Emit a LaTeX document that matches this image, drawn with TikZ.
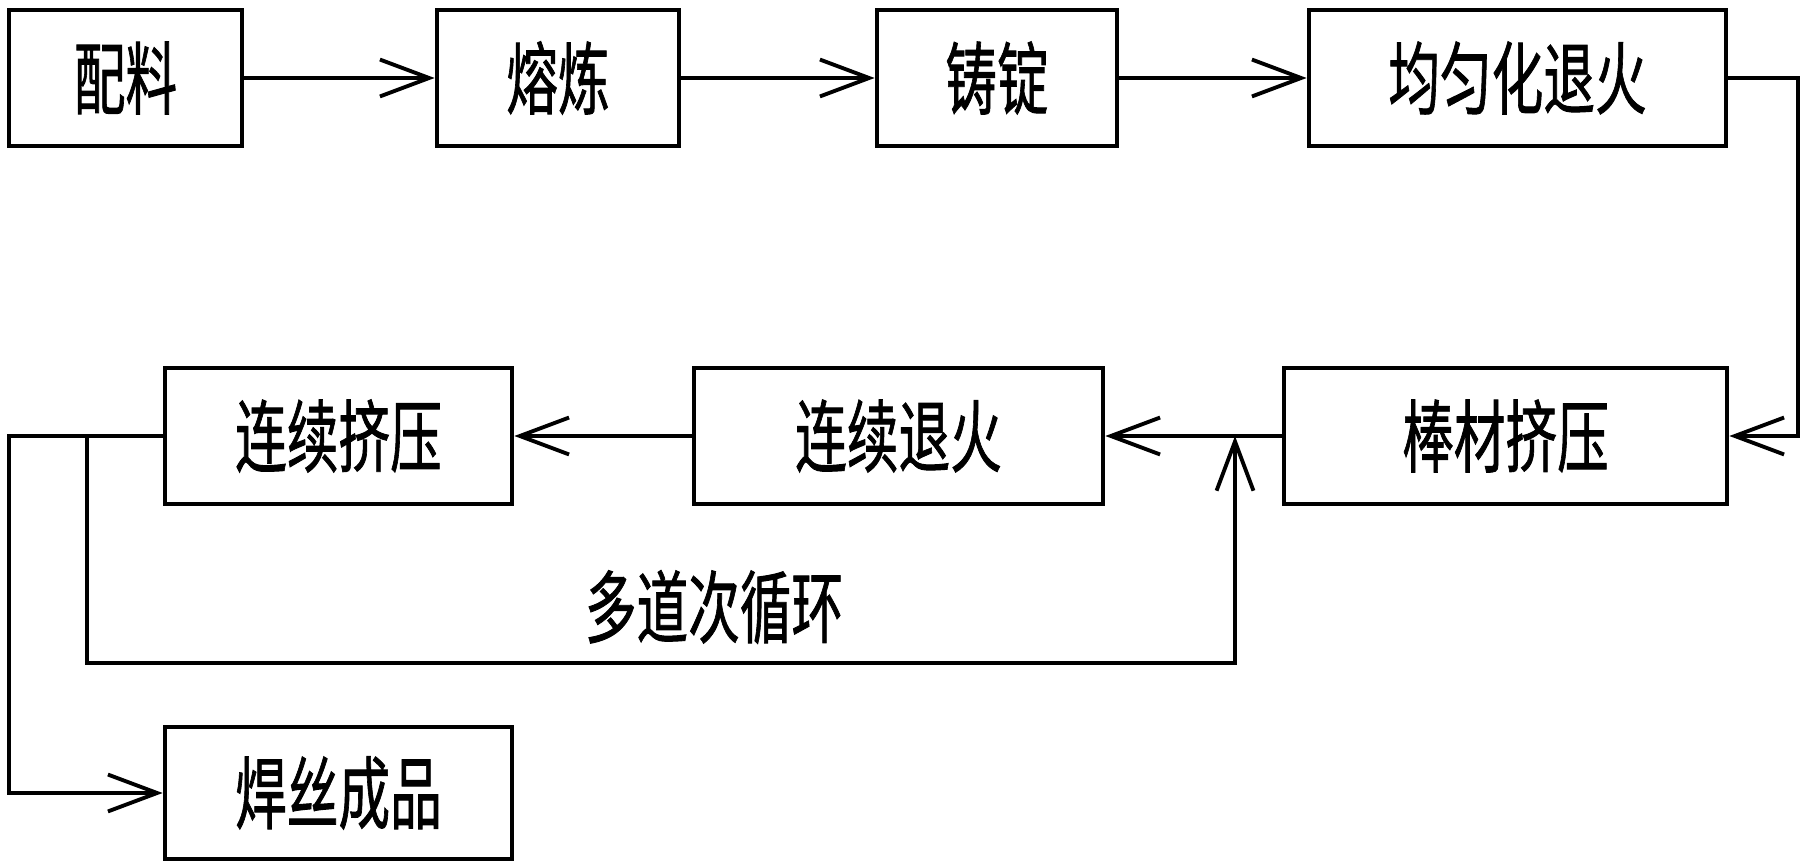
\documentclass[tikz,border=0pt]{standalone}
\usepackage{fontspec}
\newfontfamily\cjk{Noto Sans CJK SC}[FakeBold=1.2]
\usetikzlibrary{arrows.meta}
\newcommand\zh[1]{\scalebox{0.98}[1.5]{#1}}
\begin{document}
\begin{tikzpicture}[x=0.02cm,y=-0.02cm,
  txt/.style={inner sep=0pt, font=\cjk\fontsize{30pt}{30pt}\selectfont},
  box/.style={txt, draw, line width=2.7pt, minimum height=136*0.02cm},
  bw/.style={minimum width=#1*0.02cm},
  ln/.style={line width=2.7pt},
  conn/.style={ln, -{Straight Barb[length=28pt,width=21pt,line width=2.2pt]}}]
\fill[white] (0,0) rectangle (1805,868);
\useasboundingbox (0,0) rectangle (1805,868);
\node[box, bw=233] (b1) at (125.5,78) {\zh{配料}};
\node[box, bw=242] (b2) at (558,78) {\zh{熔炼}};
\node[box, bw=240] (b3) at (997,78) {\zh{铸锭}};
\node[box, bw=417] (b4) at (1517.5,78) {\zh{均匀化退火}};
\node[box, bw=443] (b5) at (1505.5,436) {\zh{棒材挤压}};
\node[box, bw=409] (b6) at (898.5,436) {\zh{连续退火}};
\node[box, bw=347] (b7) at (338.5,436) {\zh{连续挤压}};
\node[box, bw=347, minimum height=132*0.02cm] (b8) at (338.5,793) {\zh{焊丝成品}};
\node[txt] (lbl) at (714,607) {\zh{多道次循环}};
\coordinate (r) at (1798,78);
\coordinate (l) at (9,436);
\coordinate (f) at (87,436);
\coordinate (fb) at (87,663);
\coordinate (j) at (1235,436);
\draw[conn] (b1.east) -- (b2.west);
\draw[conn] (b2.east) -- (b3.west);
\draw[conn] (b3.east) -- (b4.west);
\draw[conn] (b4.east) -- (r) |- (b5.east);
\draw[conn] (b5.west) -- (b6.east);
\draw[conn] (b6.west) -- (b7.east);
\draw[conn] (b7.west) -- (l) |- (b8.west);
\draw[conn] (f) -- (fb) -| (j);
\end{tikzpicture}
\end{document}
